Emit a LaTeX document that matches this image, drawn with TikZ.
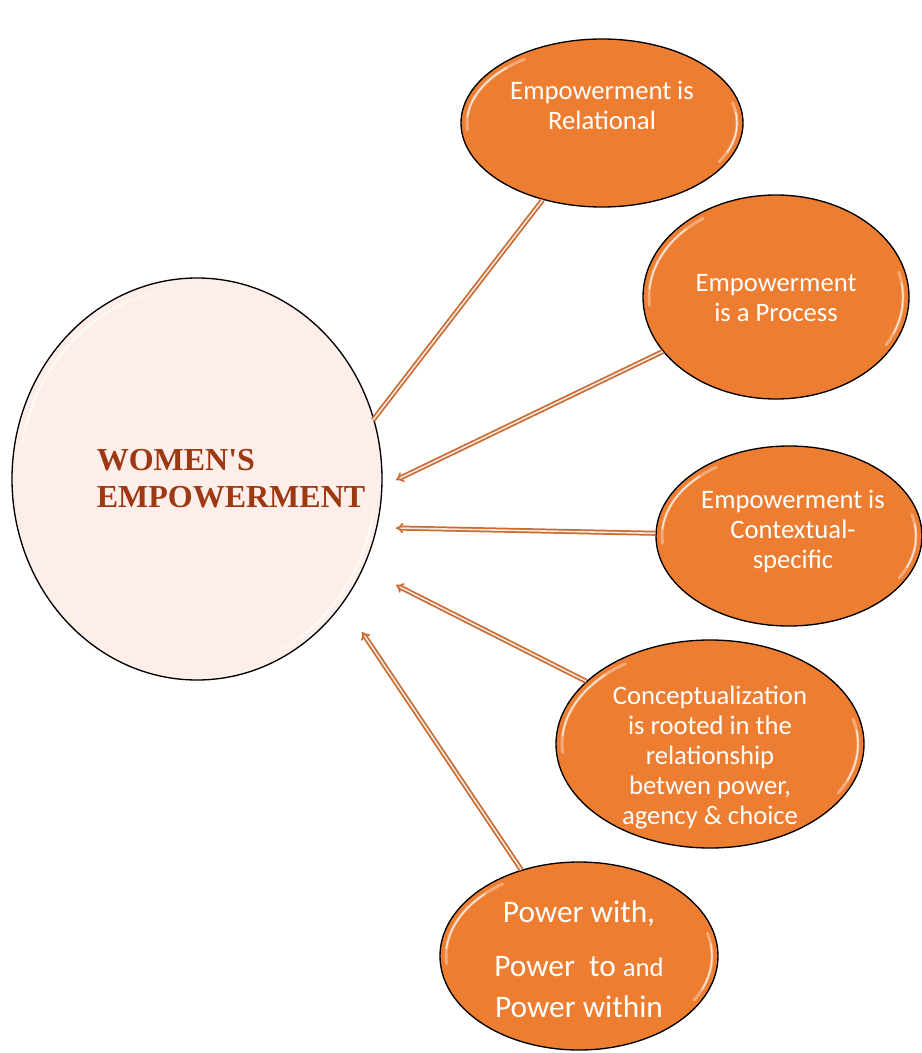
\documentclass[tikz,border=0pt]{standalone}
\usepackage{fontspec}
\setmainfont{Carlito}
\newfontfamily\headfont{Liberation Serif}
\usetikzlibrary{calc,shapes.geometric,arrows.meta}
\definecolor{bubble}{RGB}{237,125,49}
\definecolor{hubfill}{RGB}{253,238,233}
\definecolor{hubtext}{RGB}{158,56,18}
\definecolor{linkc}{RGB}{200,108,52}
\def\shinearc[#1](#2)(#3:#4:#5:#6){\draw[#1] ($(#2)+({#5*cos(#3)},{#6*sin(#3)})$) arc[start angle=#3, end angle=#4, x radius=#5, y radius=#6];}

\begin{document}
\begin{tikzpicture}[x=0.75pt,y=-0.75pt,
	hub/.style={ellipse, draw=black, line width=1pt, fill=hubfill, inner sep=0pt,
		minimum width=277.5pt, minimum height=301.5pt},
	hubtxt/.style={text=hubtext, align=left, font=\headfont\bfseries\fontsize{24}{27.75}\selectfont},
	bubble/.style={ellipse, draw=black, line width=1pt, fill=bubble, inner sep=0pt},
	bubtxt/.style={text=white, align=center, font=\fontsize{20}{22.5}\selectfont},
	shine/.style={white, line width=2.2pt, opacity=0.35, line cap=round},
	glint/.style={white, line width=0.9pt, opacity=0.8, line cap=round},
	link/.style={draw=linkc, line width=1.3pt, double=white!82!linkc, double distance=1.2pt},
	]
			%%%%% START %%%%%
			
			\useasboundingbox (0,0) rectangle (921,1053);
			
			% centre circle
			\node[hub] (we) at (197,479) {};
			\shinearc[shine](we.center)(190:255:178:193);
			\shinearc[glint](we.center)(195:245:178:193);
			\shinearc[shine](we.center)(8:62:179:194);
			\shinearc[glint](we.center)(12:55:179:194);
			\node[hubtxt] (we-txt) at (231,479) {WOMEN'S\\EMPOWERMENT};
			
			% outer bubbles
			\node[bubble, minimum width=211.5pt, minimum height=126pt] (rel) at (602,123) {};
			\node[bubble, minimum width=199.5pt, minimum height=153pt] (proc) at (776,297) {};
			\node[bubble, minimum width=199.5pt, minimum height=135pt] (ctx) at (789,536) {};
			\node[bubble, minimum width=231pt, minimum height=156pt] (conc) at (710,744) {};
			\node[bubble, minimum width=208.5pt, minimum height=141pt] (pow) at (579,956) {};
			
			% highlights along the rims
			\foreach \b/\rx/\ry in {rel/135/78, proc/127/96, ctx/127/84, conc/148/98, pow/133/88} {
				\shinearc[shine](\b.center)(175:235:\rx:\ry);
				\shinearc[glint](\b.center)(185:225:\rx:\ry);
				\shinearc[shine](\b.center)(-15:30:\rx:\ry);
				\shinearc[glint](\b.center)(-8:22:\rx:\ry);
			}
			
			\node[bubtxt] (rel-txt) at (602,105) {Empowerment is\\Relational};
			\node[bubtxt] (proc-txt) at (776,298) {Empowerment\\is a Process};
			\node[bubtxt] (ctx-txt) at (793,531) {Empowerment is\\Contextual-\\specific};
			\node[bubtxt] (conc-txt) at (710,758) {Conceptualization\\is rooted in the\\relationship\\betwen power,\\agency \& choice};
			\node[bubtxt, font=\fontsize{23.5}{30.75}\selectfont] (pow-txt) at (579,959)
				{Power with,\\[9.75pt]Power~~to {\fontsize{20}{22}\selectfont and}\\Power within};
			
			% connectors
			\coordinate (rel-end) at (373,420);
			\coordinate (proc-end) at (396,480);
			\coordinate (ctx-end) at (396,528);
			\coordinate (conc-end) at (396,585);
			\coordinate (pow-end) at (362,632);
			
			\draw[link] (rel) -- (rel-end);
			\draw[link, -{Implies[scale=2]}] (proc) -- (proc-end);
			\draw[link, -{Implies[scale=2]}] (ctx) -- (ctx-end);
			\draw[link, -{Implies[scale=2]}] (conc) -- (conc-end);
			\draw[link, -{Implies[scale=2]}] (pow) -- (pow-end);
			
			%%%%% END %%%%%
\end{tikzpicture}
\end{document}
